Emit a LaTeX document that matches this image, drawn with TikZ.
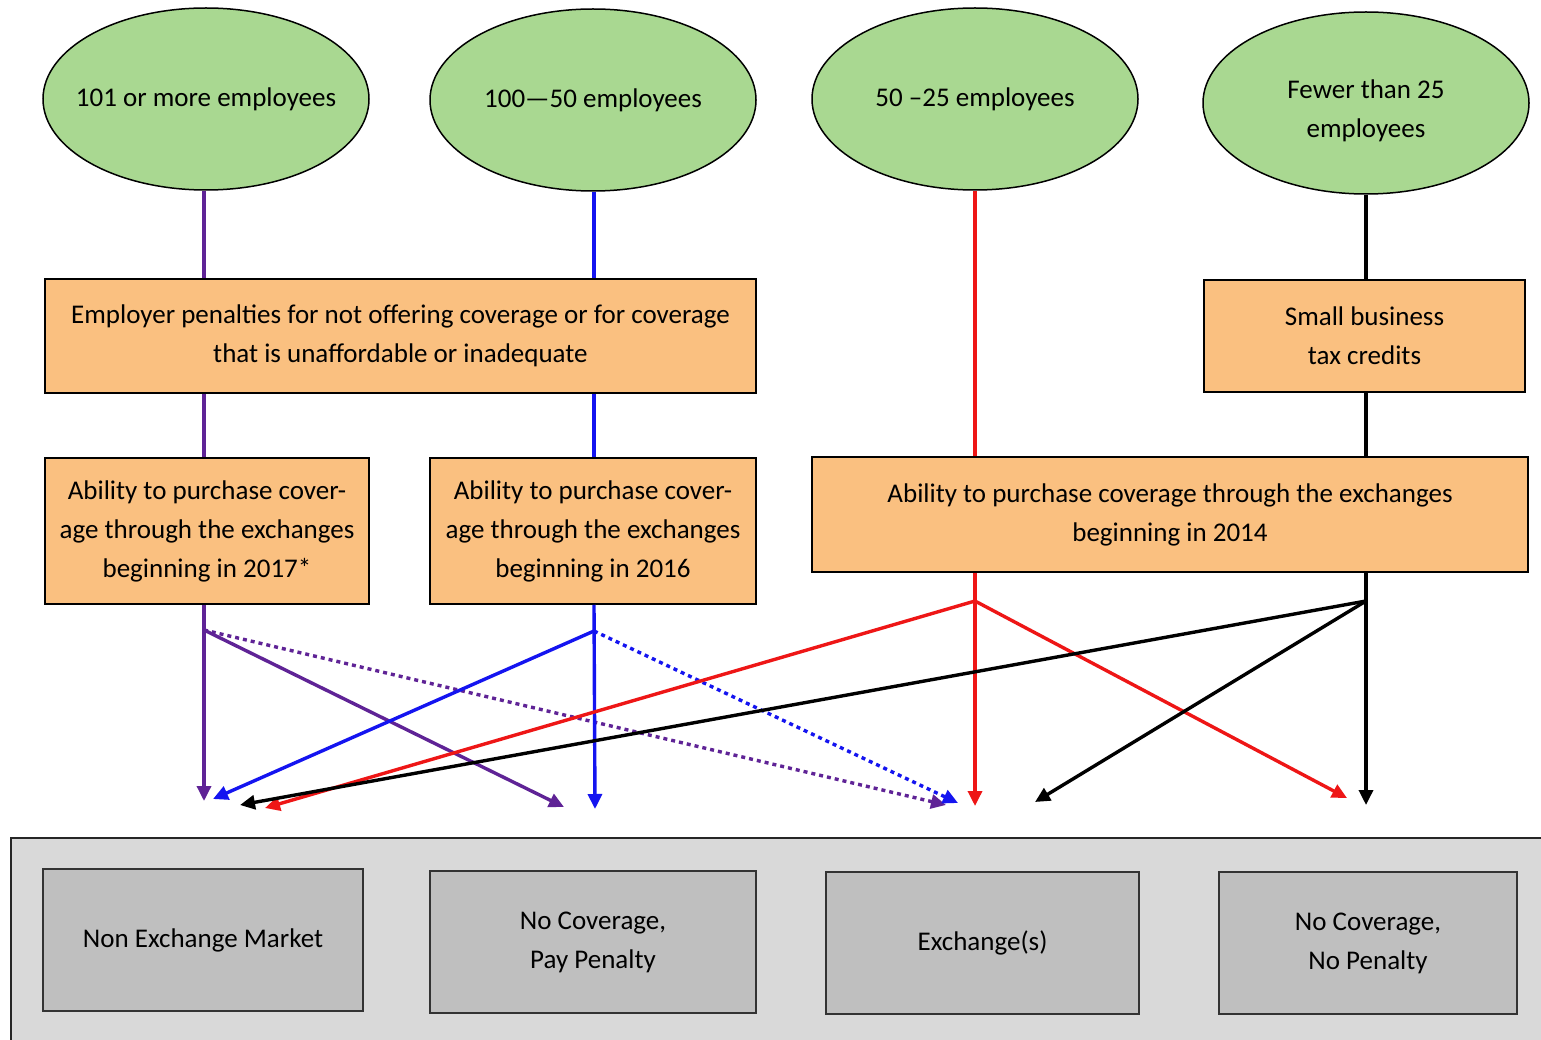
\documentclass[tikz,border=0pt]{standalone}
\usepackage{fontspec}
\setmainfont{Carlito}
\usetikzlibrary{shapes.geometric,arrows.meta}
\definecolor{ellfill}{RGB}{169,216,145}
\definecolor{boxfill}{RGB}{250,192,128}
\definecolor{pur}{RGB}{95,35,150}
\definecolor{blu}{RGB}{20,20,240}
\definecolor{rd}{RGB}{238,22,22}
\definecolor{outerfill}{RGB}{217,217,217}
\definecolor{innerfill}{RGB}{191,191,191}
\newcommand\dgfont{\fontsize{27}{39}\selectfont}
\begin{document}
\begin{tikzpicture}[x=1pt,y=-1pt,
  ell/.style={ellipse, draw=black, line width=1.5pt, fill=ellfill, minimum width=326pt, minimum height=182pt, inner xsep=-40pt, inner ysep=0pt, align=center, font=\dgfont},
  obox/.style={rectangle, draw=black, line width=1.5pt, fill=boxfill, inner sep=0pt, align=center, font=\dgfont},
  gbox/.style={rectangle, draw=black!80, line width=1.5pt, fill=innerfill, inner sep=0pt, align=center, font=\dgfont},
  conn/.style={line width=3.4pt},
  arr/.style={conn, -{Triangle[length=15pt,width=14pt]}},
  dots/.style={dash pattern=on 4pt off 4pt}
]
\useasboundingbox (0,0) rectangle (1541,1040);
\fill[white] (0,0) rectangle (1541,1040);

% outer gray panel
\node[rectangle, draw=black!85, line width=1.5pt, fill=outerfill, minimum width=1545pt, minimum height=215pt, anchor=north west, inner sep=0pt] (panel) at (10,837) {};

% ellipses
\node[ell] (e1) at (206,99) {101 or more employees};
\node[ell] (e2) at (593,100) {100---50 employees};
\node[ell] (e3) at (975,99) {50 --25 employees};
\node[ell] (e4) at (1366,103) {\rule{0pt}{34pt}Fewer than 25\\employees};

% orange boxes
\node[obox, minimum width=711pt, minimum height=114pt] (b1) at (400.5,336) {Employer penalties for not offering coverage or for coverage\\that is unaffordable or inadequate};
\node[obox, minimum width=321pt, minimum height=112pt] (b2) at (1364.5,336) {Small business\\tax credits};
\node[obox, minimum width=324pt, minimum height=146pt] (c1) at (207,531) {Ability to purchase cover-\\age through the exchanges\\beginning in 2017*};
\node[obox, minimum width=326pt, minimum height=146pt] (c2) at (593,531) {Ability to purchase cover-\\age through the exchanges\\beginning in 2016};
\node[obox, minimum width=716pt, minimum height=115pt] (c3) at (1170,514.5) {Ability to purchase coverage through the exchanges\\beginning in 2014};

% gray outcome boxes
\node[gbox, minimum width=320pt, minimum height=142pt] (d1) at (203,940) {Non Exchange Market};
\node[gbox, minimum width=326pt, minimum height=142pt] (d2) at (593,942) {No Coverage,\\Pay Penalty};
\node[gbox, minimum width=313pt, minimum height=142pt] (d3) at (982.5,943) {Exchange(s)};
\node[gbox, minimum width=298pt, minimum height=142pt] (d4) at (1368,943) {No Coverage,\\No Penalty};

% column x positions
\coordinate (xp) at (204,0);
\coordinate (xb) at (594,0);
\coordinate (xr) at (975,0);
\coordinate (xk) at (1366,0);

% branch points
\coordinate (bp) at (204,630);
\coordinate (bb) at (594,631);
\coordinate (br) at (975,601);
\coordinate (bk) at (1366,601);

% arrow tips (free ends)
\coordinate (tp1) at (204,801);
\coordinate (tp2) at (564,807);
\coordinate (tp3) at (946,805);
\coordinate (tb1) at (213,799);
\coordinate (tb2) at (595,809);
\coordinate (tb3) at (958,803);
\coordinate (tr1) at (265,808);
\coordinate (tr2) at (975,806);
\coordinate (tr3) at (1347,798);
\coordinate (tk1) at (240,805);
\coordinate (tk2) at (1035,802);
\coordinate (tk3) at (1366,805);

% purple
\draw[conn,pur] (e1.south -| xp) -- (b1.north -| xp);
\draw[conn,pur] (b1.south -| xp) -- (c1.north -| xp);
\draw[arr,pur] (c1.south -| xp) -- (tp1);
\draw[arr,pur] (bp) -- (tp2);
\draw[arr,pur,dots] (bp) -- (tp3);

% blue
\draw[conn,blu] (e2.south -| xb) -- (b1.north -| xb);
\draw[conn,blu] (b1.south -| xb) -- (c2.north -| xb);
\draw[arr,blu] (c2.south -| xb) -- (tb2);
\draw[arr,blu] (bb) -- (tb1);
\draw[arr,blu,dots] (bb) -- (tb3);

% red
\draw[conn,rd] (e3.south -| xr) -- (c3.north -| xr);
\draw[arr,rd] (c3.south -| xr) -- (tr2);
\draw[arr,rd] (br) -- (tr1);
\draw[arr,rd] (br) -- (tr3);

% black
\draw[conn,black] (e4.south -| xk) -- (b2.north -| xk);
\draw[conn,black] (b2.south -| xk) -- (c3.north -| xk);
\draw[arr,black] (c3.south -| xk) -- (tk3);
\draw[arr,black] (bk) -- (tk1);
\draw[arr,black] (bk) -- (tk2);
\end{tikzpicture}
\end{document}
